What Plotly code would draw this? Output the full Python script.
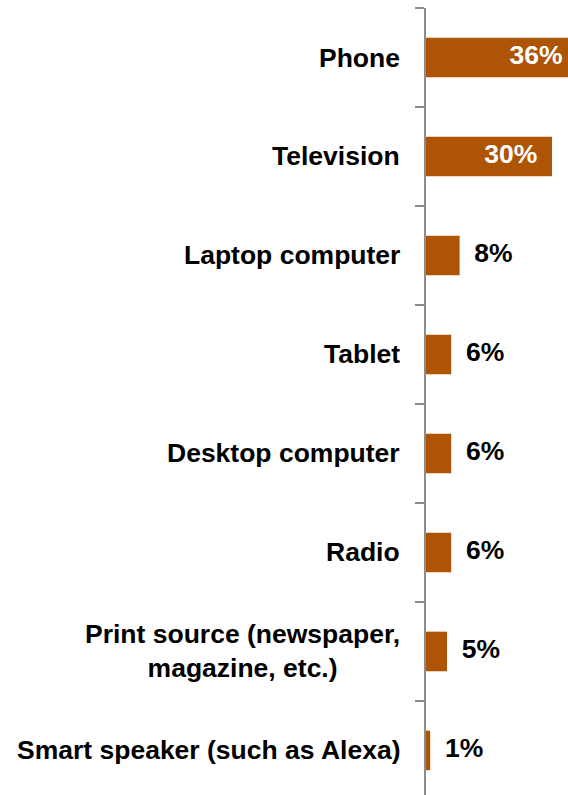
import plotly.graph_objects as go

# Device shares, top to bottom
categories = [
    "Phone",
    "Television",
    "Laptop computer",
    "Tablet",
    "Desktop computer",
    "Radio",
    "Print source (newspaper,<br>magazine, etc.)",
    "Smart speaker (such as Alexa)",
]
values = [36, 30, 8, 6, 6, 6, 5, 1]
label_inside = [True, True, False, False, False, False, False, False]

BAR_COLOR = "#AE5505"
AXIS_COLOR = "#8C8C8C"
FONT = "Liberation Sans, Arial, sans-serif"
FONT_SIZE = 26.5
NBSP = "\u00a0"

idx = list(range(len(categories)))

fig = go.Figure()

fig.add_trace(
    go.Bar(
        x=values,
        y=idx,
        orientation="h",
        width=0.4,
        marker=dict(color=BAR_COLOR, line=dict(width=0)),
        hoverinfo="skip",
    )
)

# Value labels: white inside the long bars, black just past the short ones
fig.add_trace(
    go.Scatter(
        x=values,
        y=idx,
        mode="text",
        text=[
            (f"{v}%" + NBSP * 2) if inside else (NBSP * 2 + f"{v}%")
            for v, inside in zip(values, label_inside)
        ],
        textposition=["middle left" if i else "middle right" for i in label_inside],
        textfont=dict(
            family=FONT, size=FONT_SIZE, weight=700,
            color=["white" if i else "black" for i in label_inside],
        ),
        cliponaxis=True,
        hoverinfo="skip",
    )
)

# Category labels to the left of the axis, centred line by line
for i, cat in zip(idx, categories):
    fig.add_annotation(
        x=0, xref="paper", y=i, yref="y",
        text=cat, showarrow=False,
        xanchor="right", yanchor="middle", xshift=-24,
        align="center",
        font=dict(family=FONT, size=FONT_SIZE, weight=700, color="black"),
    )

fig.update_layout(
    width=568,
    height=795,
    margin=dict(l=426, r=0, t=8, b=0),
    paper_bgcolor="white",
    plot_bgcolor="white",
    showlegend=False,
    xaxis=dict(
        range=[0, 33.8],
        visible=False,
        fixedrange=True,
    ),
    yaxis=dict(
        range=[7.45, -0.5],
        tickmode="array",
        tickvals=[i - 0.5 for i in idx] + [len(idx) - 0.5],
        showticklabels=False,
        ticks="outside",
        ticklen=9,
        tickwidth=1.5,
        tickcolor=AXIS_COLOR,
        showline=True,
        linecolor=AXIS_COLOR,
        linewidth=1.5,
        showgrid=False,
        zeroline=False,
        fixedrange=True,
    ),
)

fig.write_html("out.html")
